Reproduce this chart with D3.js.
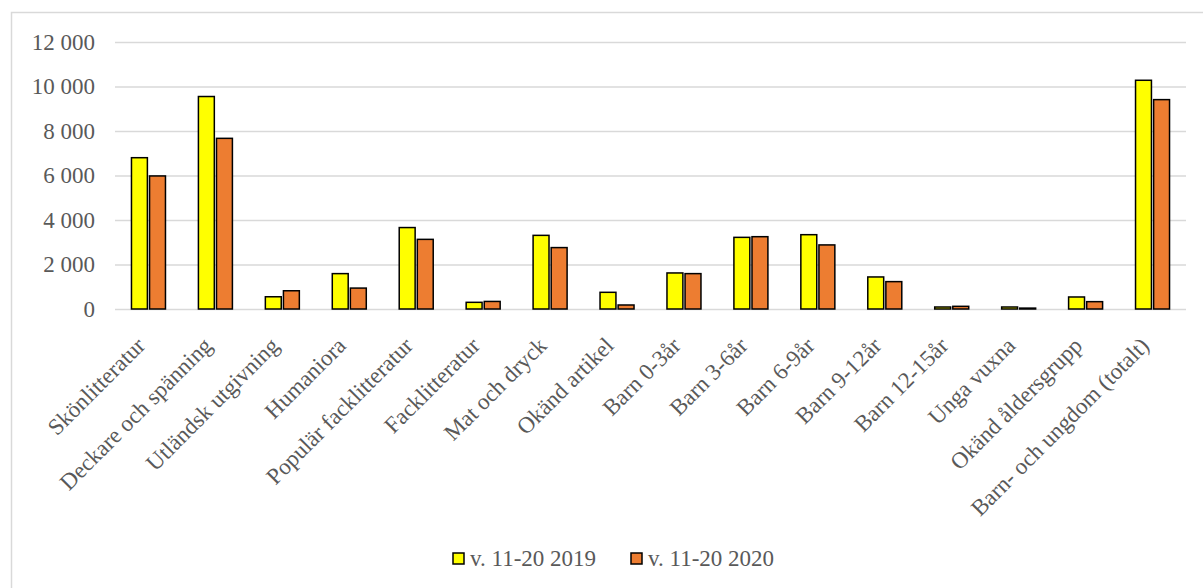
<!DOCTYPE html>
<html><head><meta charset="utf-8">
<script src="https://cdn.jsdelivr.net/npm/d3@7"></script>
<style>body{margin:0;background:#fff}svg{display:block}</style>
</head><body>
<script>
const categories = ["Skönlitteratur","Deckare och spänning","Utländsk utgivning","Humaniora","Populär facklitteratur","Facklitteratur","Mat och dryck","Okänd artikel","Barn 0-3år","Barn 3-6år","Barn 6-9år","Barn 9-12år","Barn 12-15år","Unga vuxna","Okänd åldersgrupp","Barn- och ungdom (totalt)"];
const seriesNames = ["v. 11-20 2019","v. 11-20 2020"];
const values2019 = [6800,9550,550,1590,3660,300,3310,750,1620,3220,3340,1440,90,90,540,10280];
const values2020 = [5980,7670,820,940,3130,340,2760,180,1590,3250,2880,1230,120,40,330,9410];
const yTicks = [0,2000,4000,6000,8000,10000,12000];
const colors = ["#FFFF00","#ED7D31"];

const W=1203,H=588;
const svg=d3.select("body").append("svg").attr("width",W).attr("height",H);
svg.append("rect").attr("x",11.5).attr("y",12.5).attr("width",W).attr("height",H).attr("fill","none").attr("stroke","#d9d9d9").attr("stroke-width",1.5);

const x=d3.scaleBand().domain(categories).range([115,1186]);
const y=d3.scaleLinear().domain([0,12000]).range([309,42]);
const loc=d3.formatLocale({decimal:",",thousands:"\u00a0",grouping:[3],currency:["",""]});
const fmt=loc.format(",d");
const font="'Liberation Serif','Times New Roman',serif";
const fs="23px";

const ga=svg.append("g").attr("transform","translate(115,0)")
  .call(d3.axisLeft(y).tickValues(yTicks).tickSize(-(1186-115)).tickPadding(20).tickFormat(fmt));
ga.select(".domain").remove();
ga.selectAll(".tick line").attr("stroke","#d9d9d9").attr("stroke-width",1.5);
ga.selectAll(".tick text").attr("fill","#595959").style("font-family",font).style("font-size",fs);

const xs=d3.scaleBand().domain([0,1]).range([0,34]).paddingInner(0.12);
const data=categories.map((c,i)=>({c,v:[values2019[i],values2020[i]]}));
const g=svg.append("g");
const grp=g.selectAll("g").data(data).join("g").attr("transform",d=>`translate(${x(d.c)+x.bandwidth()/2-17},0)`);
grp.selectAll("rect").data(d=>d.v.map((v,k)=>({v,k}))).join("rect")
  .attr("x",d=>xs(d.k)).attr("width",xs.bandwidth())
  .attr("y",d=>y(d.v)).attr("height",d=>y(0)-y(d.v))
  .attr("fill",d=>colors[d.k]).attr("stroke","#000").attr("stroke-width",1.5);

const gx=svg.append("g").attr("transform","translate(0,309)")
  .call(d3.axisBottom(x).tickSize(0).tickPadding(0));
gx.select(".domain").remove();
gx.selectAll(".tick text").attr("fill","#595959").style("font-family",font).style("font-size",fs)
  .attr("text-anchor","end").attr("dy",null).attr("y",null)
  .attr("transform","translate(-2,38) rotate(-45)");

const lg=svg.append("g");
const lx=[453,631];
seriesNames.forEach((s,i)=>{
  lg.append("rect").attr("x",lx[i]).attr("y",553).attr("width",11).attr("height",11).attr("fill",colors[i]).attr("stroke","#000").attr("stroke-width",1.5);
  lg.append("text").attr("x",lx[i]+17).attr("y",566).text(s).attr("fill","#595959").style("font-family",font).style("font-size",fs);
});
</script>
</body></html>
